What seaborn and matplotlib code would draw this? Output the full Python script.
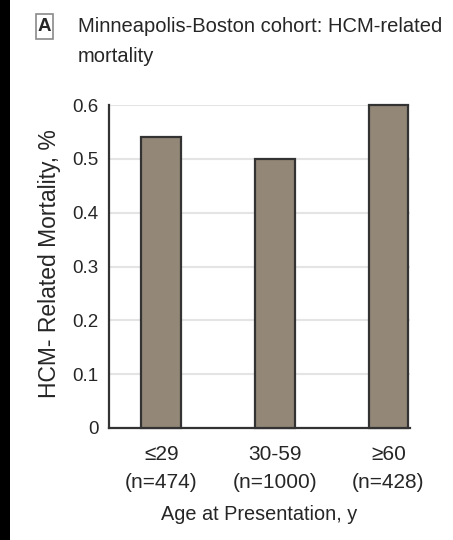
import matplotlib
matplotlib.use("Agg")
import matplotlib.pyplot as plt
from matplotlib.patches import Rectangle
import pandas as pd
import seaborn as sns

# Data
age_groups = ["≤29", "30-59", "≥60"]
group_sizes = [474, 1000, 428]
mortality = [0.54, 0.50, 0.60]
y_ticks = [0, 0.1, 0.2, 0.3, 0.4, 0.5, 0.6]
y_tick_labels = ["0", "0.1", "0.2", "0.3", "0.4", "0.5", "0.6"]

panel_letter = "A"
title = "Minneapolis-Boston cohort: HCM-related\nmortality"
x_label = "Age at Presentation, y"
y_label = "HCM- Related Mortality, %"

sns.set_theme(style="white")
plt.rcParams["font.family"] = ["Liberation Sans", "DejaVu Sans"]

TEXT = "#262626"
AXIS = "#333333"
BAR = "#938878"

df = pd.DataFrame({"age": age_groups, "mortality": mortality})

W, H = 453, 540
fig = plt.figure(figsize=(W / 100, H / 100), dpi=100)
fig.patch.set_facecolor("white")

ax_left, ax_right, ax_top, ax_bottom = 109, 410, 105, 428
ax = fig.add_axes([ax_left / W, 1 - ax_bottom / H,
                   (ax_right - ax_left) / W, (ax_bottom - ax_top) / H])

sns.barplot(data=df, x="age", y="mortality", color=BAR, saturation=1,
            edgecolor=AXIS, linewidth=1.6, width=0.35, ax=ax, zorder=3)
for p in ax.patches:
    p.set_clip_on(False)

ax.set_xlim(-0.46, 2.19)
ax.set_ylim(0, 0.6)

ax.set_yticks(y_ticks)
ax.set_yticklabels(y_tick_labels)
ax.set_xticks(range(len(age_groups)))
ax.set_xticklabels([f"{a}\n(n={n})" for a, n in zip(age_groups, group_sizes)],
                   linespacing=1.65)

ax.tick_params(axis="y", direction="out", length=6, width=1.5, color=AXIS,
               labelsize=13.5, labelcolor=TEXT, pad=1.5)
ax.tick_params(axis="x", length=0, labelsize=15, labelcolor=TEXT, pad=12)

ax.yaxis.grid(True, color="#e4e4e4", lw=1.5)
ax.xaxis.grid(False)
ax.set_axisbelow(True)

for side in ["top", "right"]:
    ax.spines[side].set_visible(False)
for side in ["left", "bottom"]:
    ax.spines[side].set_color(AXIS)
    ax.spines[side].set_linewidth(1.6)

ax.set_ylabel(y_label, fontsize=16.5, color=TEXT, va="center")
ax.yaxis.set_label_coords((50 - ax_left) / (ax_right - ax_left),
                          (ax_bottom - 263.5) / (ax_bottom - ax_top))
ax.set_xlabel(x_label, fontsize=14.3, color=TEXT, va="center")
ax.xaxis.set_label_coords(0.5, (ax_bottom - 515) / (ax_bottom - ax_top))

# Dark strip along the left edge
fig.patches.append(Rectangle((0, 0), 10 / W, 1, transform=fig.transFigure,
                             facecolor="black", edgecolor="none", zorder=0))

# Panel letter box
fig.patches.append(Rectangle((36 / W, 1 - 39 / H), 17 / W, 25 / H,
                             transform=fig.transFigure, facecolor="white",
                             edgecolor="#8a8a8a", lw=1.2, zorder=2))
fig.text(44.5 / W, 1 - 26.5 / H, panel_letter, ha="center", va="center",
         fontsize=13.5, fontweight="bold", color=TEXT)

# Title
fig.text(78 / W, 1 - 17 / H, title, ha="left", va="top", fontsize=14.5,
         color=TEXT, linespacing=1.7)

fig.savefig("out.png", dpi=100)
